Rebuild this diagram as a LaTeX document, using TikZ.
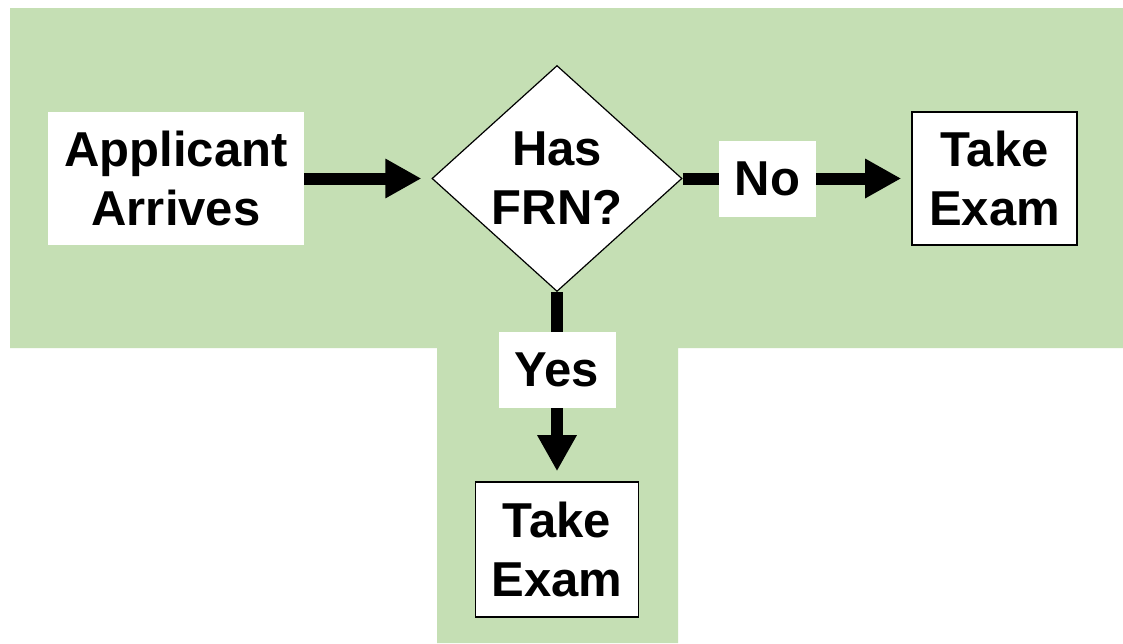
\documentclass[tikz,border=0pt]{standalone}
\usepackage{fontspec}
\setmainfont{Liberation Sans}
\usetikzlibrary{shapes.geometric,arrows.meta}
\definecolor{bggreen}{HTML}{C5DFB4}
\begin{document}
\begin{tikzpicture}[x=1pt,y=-1pt,
  txt/.style={font=\fontsize{49}{59}\selectfont\bfseries, align=center, text=black, inner sep=0pt},
  plainbox/.style={txt, rectangle, fill=white},
  framebox/.style={txt, rectangle, fill=white, draw=black, line width=1.6pt},
  decbox/.style={txt, diamond, fill=white, draw=black, line width=1.2pt},
  conn/.style={line width=12pt, black},
  arr/.style={conn, -{Triangle[length=36pt,width=37pt]}, shorten >=10pt}
]
\useasboundingbox (0,0) rectangle (1123,643);
\fill[white] (0,0) rectangle (1123,643);
\fill[bggreen] (10,8) -- (1123,8) -- (1123,348) -- (678,348) -- (678,643) -- (437,643) -- (437,348) -- (10,348) -- cycle;

\node[plainbox, minimum width=256pt, minimum height=133pt] (app) at (176,178.5) {Applicant\\Arrives};
\node[decbox, minimum width=250pt, minimum height=226pt] (dec) at (557,178.5) {Has\\FRN?};
\node[plainbox, minimum width=97pt, minimum height=76pt] (no) at (767.5,178.5) {No};
\node[framebox, minimum width=165pt, minimum height=133pt] (te1) at (994.5,178.5) {Take\\Exam};
\node[plainbox, minimum width=117pt, minimum height=76pt] (yes) at (557,370) {Yes};
\node[framebox, minimum width=163pt, minimum height=135pt] (te2) at (557,549.5) {Take\\Exam};

\draw[arr] (app.east) -- (dec.west);
\draw[conn] (dec.east) -- (no.west);
\draw[arr] (no.east) -- (te1.west);
\draw[conn] (dec.south) -- (yes.north);
\draw[arr] (yes.south) -- (te2.north);
\end{tikzpicture}
\end{document}
